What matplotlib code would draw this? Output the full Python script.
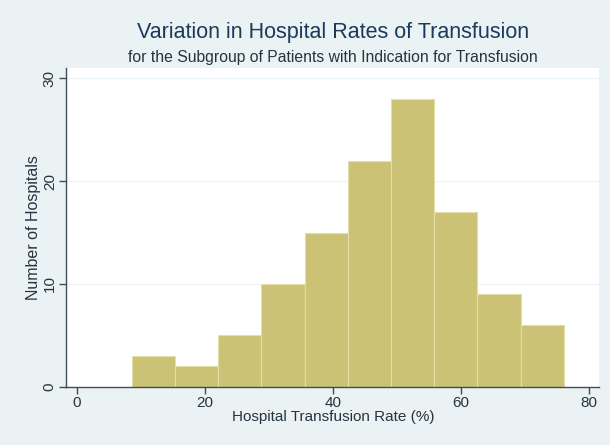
import numpy as np
import matplotlib
matplotlib.use("Agg")
from matplotlib import pyplot as plt

# histogram
bin_edges = [8.6, 15.35, 22.1, 28.85, 35.6, 42.35, 49.1, 55.85, 62.6, 69.35, 76.1]
counts = [3, 2, 5, 10, 15, 22, 28, 17, 9, 6]
x_ticks = [0, 20, 40, 60, 80]
y_ticks = [0, 10, 20, 30]

plt.rcParams['font.family'] = ['Liberation Sans', 'DejaVu Sans']

bg = '#EAF2F3'
axis_col = '#3E4E57'
text_col = '#25343E'

fig = plt.figure(figsize=(6.1, 4.45), dpi=100, facecolor=bg)
ax = fig.add_axes([0.109, 0.131, 0.873, 0.716])
ax.set_facecolor('white')

left = np.array(bin_edges[:-1])
widths = np.diff(bin_edges)
ax.bar(left, counts, width=widths, align='edge', color='#CCC276',
       edgecolor='#E4DEAA', linewidth=0.8, zorder=3)

for yv in y_ticks[1:]:
    ax.axhline(yv, color='#EDF3F6', linewidth=0.8, zorder=1)

ax.set_xlim(-1.6, 81.6)
ax.set_ylim(0, 31)
ax.set_xticks(x_ticks)
ax.set_yticks(y_ticks)
ax.set_yticklabels([str(v) for v in y_ticks], rotation=90, va='center')

for s in ['top', 'right']:
    ax.spines[s].set_visible(False)
for s in ['left', 'bottom']:
    ax.spines[s].set_color(axis_col)
    ax.spines[s].set_linewidth(1.0)
ax.spines['bottom'].set_zorder(4)

ax.tick_params(axis='both', direction='out', length=5, width=1.0,
               color=axis_col, labelcolor=text_col, labelsize=11, pad=2)

ax.set_xlabel('Hospital Transfusion Rate (%)', fontsize=11, color=text_col, labelpad=0)
ax.set_ylabel('Number of Hospitals', fontsize=11.5, color=text_col, labelpad=1)

fig.text(0.546, 0.927, 'Variation in Hospital Rates of Transfusion',
         ha='center', va='center', fontsize=15.5, color='#1C3A5C')
fig.text(0.546, 0.871, 'for the Subgroup of Patients with Indication for Transfusion',
         ha='center', va='center', fontsize=11.3, color=text_col)

fig.savefig('out.png', dpi=100, facecolor=bg)
